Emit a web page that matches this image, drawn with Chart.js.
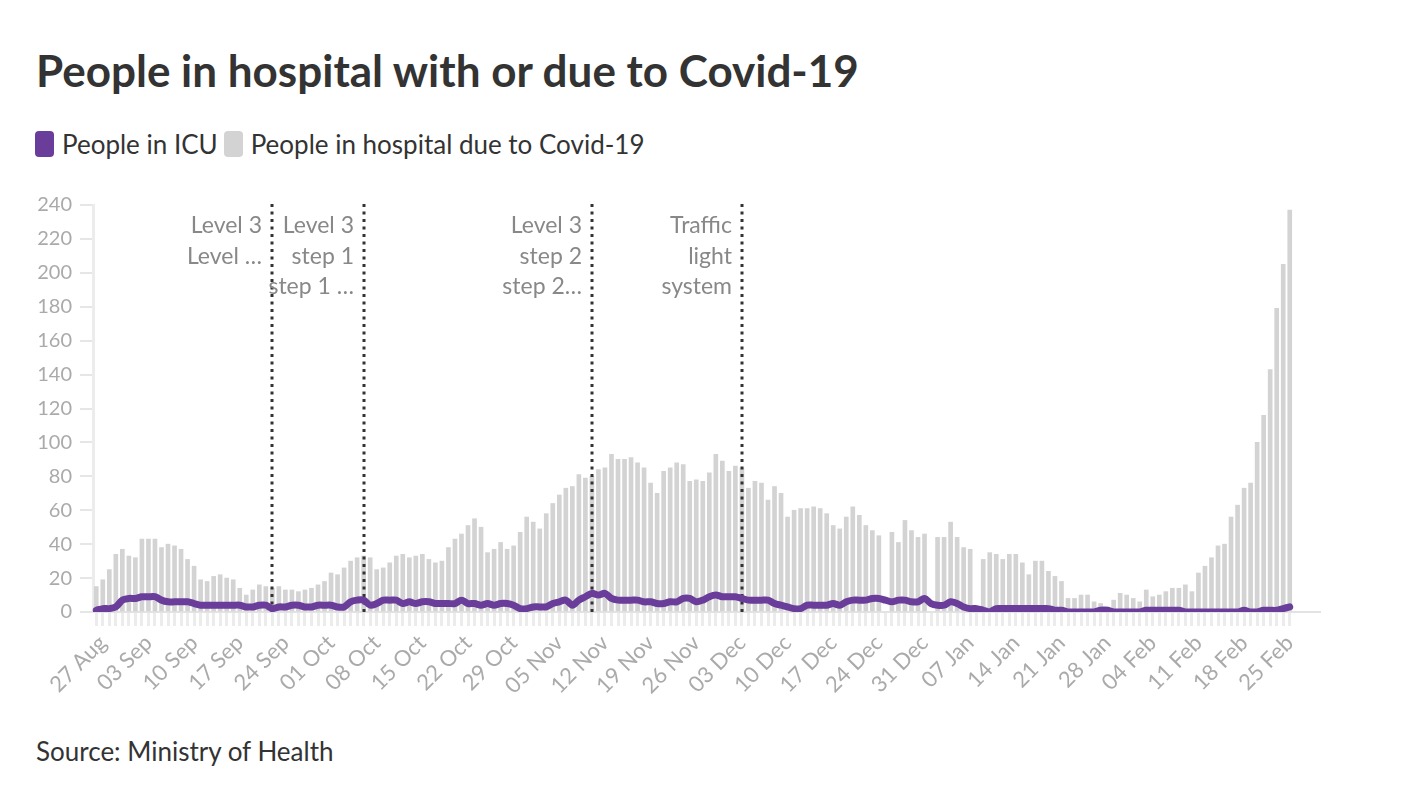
<!DOCTYPE html>
<html>
<head>
<meta charset="utf-8">
<script src="https://cdn.jsdelivr.net/npm/chart.js@4.4.1/dist/chart.umd.min.js"></script>
<style>
  body { margin: 0; background: #fff; width: 1416px; height: 794px; overflow: hidden; font-family: Lato, "Noto Sans", sans-serif; }
  #title { position: absolute; left: 36px; top: 45px; font-size: 44px; font-weight: 700; color: #333; line-height: 50px; white-space: nowrap; }
  #legend { position: absolute; left: 35px; top: 129px; display: flex; align-items: center; font-size: 26px; color: #333; line-height: 30px; }
  .sw { display: inline-block; width: 19px; height: 26px; border-radius: 4px; margin-right: 8px; }
  .item { display: flex; align-items: center; margin-right: 6px; }
  #source { position: absolute; left: 36px; top: 736px; font-size: 26px; color: #333; line-height: 30px; }
  #wrap { position: absolute; left: 0; top: 185px; width: 1340px; height: 526px; }
</style>
</head>
<body>
<div id="title">People in hospital with or due to Covid-19</div>
<div id="legend">
  <span class="item"><span class="sw" style="background:#6a3d9a"></span>People in ICU</span>
  <span class="item"><span class="sw" style="background:#d3d3d3"></span>People in hospital due to Covid-19</span>
</div>
<div id="wrap"><canvas id="chart"></canvas></div>
<div id="source">Source: Ministry of Health</div>

<script>
// daily values, 26 Aug -> 25 Feb
const hospital = [
  15, 19, 25, 34, 37, 33, 32, 43, 43, 43,
  38, 40, 39, 37, 31, 27, 19, 18, 21, 22,
  20, 19, 14, 10, 13, 16, 15, 14, 15, 13,
  13, 12, 13, 14, 16, 18, 23, 22, 26, 30,
  32, 33, 32, 25, 26, 29, 33, 34, 32, 33,
  34, 31, 29, 30, 38, 43, 46, 51, 55, 50,
  35, 37, 41, 37, 39, 47, 56, 53, 49, 58,
  64, 69, 73, 74, 81, 79, 80, 84, 85, 93,
  90, 90, 91, 88, 85, 76, 70, 83, 85, 88,
  87, 77, 78, 77, 82, 93, 89, 83, 86, 85,
  73, 77, 76, 66, 74, 70, 56, 60, 61, 61,
  62, 61, 58, 51, 49, 56, 62, 57, 51, 48,
  45, null, 47, 41, 54, 48, 44, 46, null, 44,
  44, 53, 44, 38, 37, null, 31, 35, 34, 31,
  34, 34, 29, 22, 30, 30, 24, 21, 18, 8,
  8, 10, 10, 6, 5, 3, 7, 11, 10, 8,
  6, 13, 9, 10, 12, 14, 14, 16, 12, 23,
  27, 32, 39, 40, 56, 63, 73, 76, 100, 116,
  143, 179, 205, 237
];

const icu = [
  1, 2, 2, 3, 7, 8, 8, 9, 9, 9,
  7, 6, 6, 6, 6, 5, 4, 4, 4, 4,
  4, 4, 4, 3, 3, 4, 4, 2, 3, 3,
  4, 4, 3, 3, 4, 4, 4, 3, 3, 6,
  7, 7, 4, 5, 7, 7, 7, 5, 6, 5,
  6, 6, 5, 5, 5, 5, 7, 5, 5, 4,
  5, 4, 5, 5, 4, 2, 2, 3, 3, 3,
  5, 6, 7, 4, 7, 9, 11, 10, 11, 8,
  7, 7, 7, 7, 6, 6, 5, 5, 6, 6,
  8, 8, 6, 7, 9, 10, 9, 9, 9, 8,
  7, 7, 7, 7, 5, 4, 3, 2, 2, 4,
  4, 4, 4, 5, 4, 6, 7, 7, 7, 8,
  8, 7, 6, 7, 7, 6, 6, 8, 5, 4,
  4, 6, 5, 3, 2, 2, 1, 0, 2, 2,
  2, 2, 2, 2, 2, 2, 2, 1, 1, 0,
  0, 0, 0, 0, 1, 1, 0, 0, 0, 0,
  0, 1, 1, 1, 1, 1, 1, 0, 0, 0,
  0, 0, 0, 0, 0, 0, 1, 0, 0, 1,
  1, 1, 2, 3
];

const tickLabels = ["27 Aug", "03 Sep", "10 Sep", "17 Sep", "24 Sep", "01 Oct", "08 Oct",
  "15 Oct", "22 Oct", "29 Oct", "05 Nov", "12 Nov", "19 Nov", "26 Nov", "03 Dec",
  "10 Dec", "17 Dec", "24 Dec", "31 Dec", "07 Jan", "14 Jan", "21 Jan", "28 Jan",
  "04 Feb", "11 Feb", "18 Feb", "25 Feb"];

const yTicks = [0, 20, 40, 60, 80, 100, 120, 140, 160, 180, 200, 220, 240];

// alert level changes (dotted lines)
const eventDates = ["22 Sep", "06 Oct", "10 Nov", "03 Dec"];
const eventTexts = [
  ["Level 3", "Level \u2026"],
  ["Level 3", "step 1", "step 1 \u2026"],
  ["Level 3", "step 2", "step 2\u2026"],
  ["Traffic", "light", "system"]
];

const MONTHS = ["Jan","Feb","Mar","Apr","May","Jun","Jul","Aug","Sep","Oct","Nov","Dec"];
const days = hospital.map((_, i) => {
  const d = new Date(2021, 7, 26 + i);
  return String(d.getDate()).padStart(2, "0") + " " + MONTHS[d.getMonth()];
});

const FONT = "Lato, 'Noto Sans', sans-serif";

// dotted lines + labels, drawn after the bars but under the ICU line
const eventLines = {
  id: "eventLines",
  afterDatasetDraw(chart, args) {
    if (args.index !== 1) return;
    const { ctx, chartArea, scales } = chart;
    ctx.save();
    eventDates.forEach((d, k) => {
      const x = Math.round(scales.x.getPixelForValue(days.indexOf(d)));
      ctx.strokeStyle = "#333";
      ctx.lineWidth = 3;
      ctx.setLineDash([3, 4.5]);
      ctx.beginPath();
      ctx.moveTo(x, chartArea.top - 1);
      ctx.lineTo(x, chartArea.bottom);
      ctx.stroke();

      ctx.setLineDash([]);
      ctx.fillStyle = "#888";
      ctx.font = "23px " + FONT;
      ctx.textAlign = "right";
      ctx.textBaseline = "middle";
      eventTexts[k].forEach((t, j) => {
        ctx.fillText(t, x - 10, chartArea.top + 21 + j * 30.5);
      });
    });
    ctx.restore();
  },
  beforeDatasetsDraw(chart) {
    // zero baseline runs a little past the last bar
    const { ctx, chartArea, scales } = chart;
    const y = scales.y.getPixelForValue(0);
    ctx.save();
    ctx.strokeStyle = "#e3e3e3";
    ctx.lineWidth = 2;
    ctx.beginPath();
    ctx.moveTo(chartArea.left, y);
    ctx.lineTo(chartArea.right + 28, y);
    ctx.stroke();
    ctx.restore();
  }
};

new Chart(document.getElementById("chart"), {
  type: "bar",
  data: {
    labels: days,
    datasets: [
      {
        type: "line",
        label: "People in ICU",
        data: icu,
        borderColor: "#6a3d9a",
        borderWidth: 7,
        pointRadius: 0,
        tension: 0.3,
        borderCapStyle: "round",
        borderJoinStyle: "round",
        order: 0
      },
      {
        label: "People in hospital due to Covid-19",
        data: hospital,
        backgroundColor: "#d3d3d3",
        barThickness: 4,
        order: 1
      }
    ]
  },
  options: {
    responsive: true,
    maintainAspectRatio: false,
    animation: false,
    layout: { padding: { top: 9, right: 47, left: 0, bottom: 0 } },
    plugins: { legend: { display: false }, tooltip: { enabled: false } },
    scales: {
      x: {
        offset: true,
        grid: { offset: false, drawOnChartArea: false, tickLength: 14, color: "#ececec", lineWidth: 3 },
        border: { display: false },
        ticks: {
          autoSkip: false,
          minRotation: 45,
          maxRotation: 45,
          padding: 4,
          color: "#aaa",
          font: { family: FONT, size: 22 },
          callback: function (v) {
            const l = this.getLabelForValue(v);
            return tickLabels.includes(l) ? l : "";
          }
        },
        afterFit: s => { s.height = 99; }
      },
      y: {
        min: 0,
        max: 240,
        afterBuildTicks: s => { s.ticks = yTicks.map(v => ({ value: v })); },
        grid: { drawOnChartArea: false, tickLength: 13, color: "#e6e6e6", lineWidth: 2 },
        border: { display: true, color: "#ececec", width: 3 },
        ticks: { padding: 8, color: "#aaa", font: { family: FONT, size: 20 } },
        afterFit: s => { s.width = 93; }
      }
    }
  },
  plugins: [eventLines]
});
</script>
</body>
</html>
